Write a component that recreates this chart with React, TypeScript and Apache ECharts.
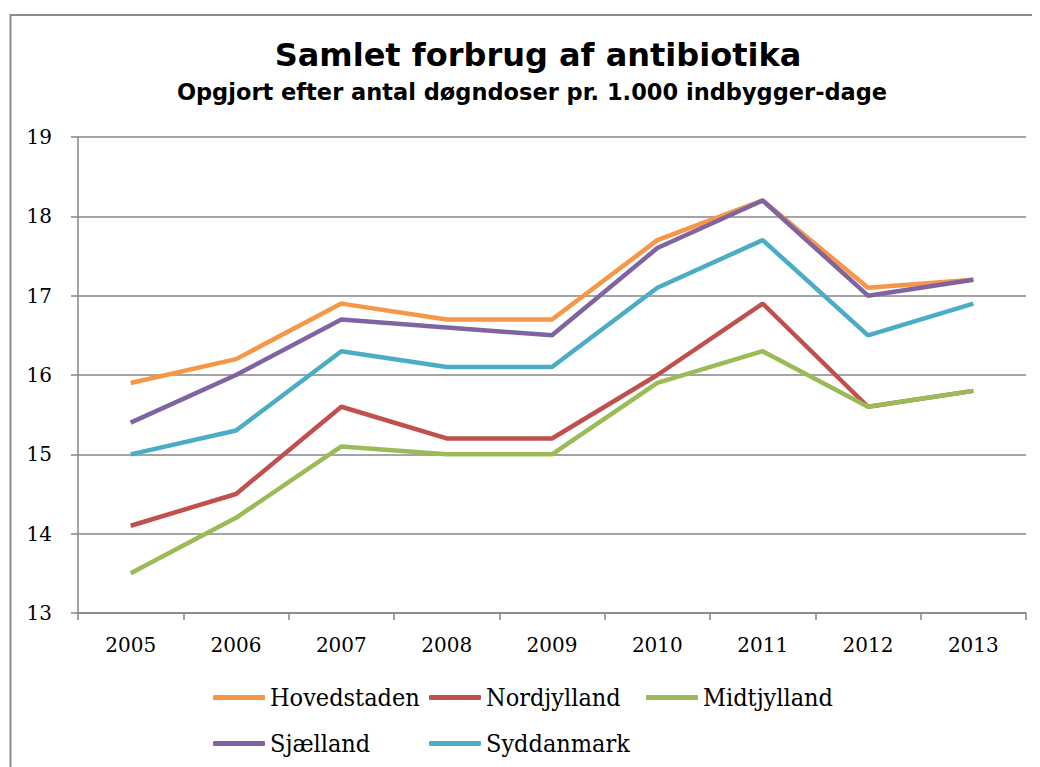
import React, { useEffect, useRef } from "react";
import * as echarts from "echarts";

const years = ["2005", "2006", "2007", "2008", "2009", "2010", "2011", "2012", "2013"];
const hovedstaden = [15.9, 16.2, 16.9, 16.7, 16.7, 17.7, 18.2, 17.1, 17.2];
const nordjylland = [14.1, 14.5, 15.6, 15.2, 15.2, 16.0, 16.9, 15.6, 15.8];
const midtjylland = [13.5, 14.2, 15.1, 15.0, 15.0, 15.9, 16.3, 15.6, 15.8];
const sjaelland = [15.4, 16.0, 16.7, 16.6, 16.5, 17.6, 18.2, 17.0, 17.2];
const syddanmark = [15.0, 15.3, 16.3, 16.1, 16.1, 17.1, 17.7, 16.5, 16.9];

const seriesNames = ["Hovedstaden", "Nordjylland", "Midtjylland", "Sjælland", "Syddanmark"];
const seriesColors = ["#F79646", "#C0504D", "#9BBB59", "#8064A2", "#4BACC6"];
const seriesData = [hovedstaden, nordjylland, midtjylland, sjaelland, syddanmark];

const titleText = "Samlet forbrug af antibiotika";
const subtitleText = "Opgjort efter antal døgndoser pr. 1.000 indbygger-dage";

export default function App() {
  const ref = useRef<HTMLDivElement>(null);
  useEffect(() => {
    if (!ref.current) return;
    const chart = echarts.init(ref.current, undefined, { renderer: "svg" });
    const legendPos = [
      { left: 205, top: 677 },
      { left: 421, top: 677 },
      { left: 638, top: 677 },
      { left: 205, top: 723 },
      { left: 421, top: 723 },
    ];
    chart.setOption({
      animation: false,
      backgroundColor: "#ffffff",
      graphic: [
        {
          type: "rect",
          shape: { x: 2.5, y: 7, width: 1200, height: 1000 },
          style: { fill: "none", stroke: "#8c8c8c", lineWidth: 2 },
          silent: true,
        },
        {
          type: "text",
          x: 530,
          y: 47,
          style: {
            text: titleText,
            font: "bold 32px 'DejaVu Sans'",
            fill: "#000",
            textAlign: "center",
            textVerticalAlign: "middle",
          },
        },
        {
          type: "text",
          x: 524,
          y: 84,
          style: {
            text: subtitleText,
            font: "bold 22.5px 'DejaVu Sans'",
            fill: "#000",
            textAlign: "center",
            textVerticalAlign: "middle",
          },
        },
      ],
      legend: seriesNames.map((n, i) => ({
        data: [n],
        left: legendPos[i].left,
        top: legendPos[i].top,
        icon: "roundRect",
        itemWidth: 52,
        itemHeight: 5,
        padding: 0,
        selectedMode: false,
        textStyle: { fontFamily: "'DejaVu Serif Condensed'", fontSize: 25, color: "#000" },
      })),
      grid: { left: 70, top: 129, width: 948, height: 476, containLabel: false },
      xAxis: {
        type: "category",
        data: years,
        boundaryGap: true,
        axisLine: { lineStyle: { color: "#868686", width: 1.5 } },
        axisTick: { show: true, length: 7, lineStyle: { color: "#868686", width: 1.5 } },
        axisLabel: { fontFamily: "'DejaVu Serif'", fontSize: 20, color: "#000", margin: 22 },
      },
      yAxis: {
        type: "value",
        min: 13,
        max: 19,
        interval: 1,
        axisLine: { show: true, lineStyle: { color: "#868686", width: 1.5 } },
        axisTick: { show: true, length: 7, lineStyle: { color: "#868686", width: 1.5 } },
        splitLine: { lineStyle: { color: "#868686", width: 1.5 } },
        axisLabel: { fontFamily: "'DejaVu Serif'", fontSize: 20, color: "#000", margin: 26 },
      },
      series: seriesNames.map((n, i) => ({
        name: n,
        type: "line",
        data: seriesData[i],
        symbol: "none",
        color: seriesColors[i],
        lineStyle: { width: 4.5, color: seriesColors[i] },
        z: 2 + i,
      })),
    });
    return () => chart.dispose();
  }, []);
  return <div ref={ref} style={{ width: 1024, height: 759 }} />;
}
